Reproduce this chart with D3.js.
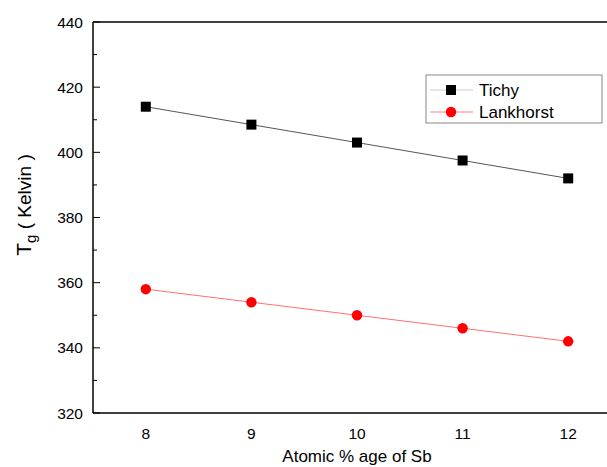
<!DOCTYPE html>
<html><head><meta charset="utf-8">
<script src="https://cdn.jsdelivr.net/npm/d3@7"></script>
<style>body{margin:0;background:#fff}svg{display:block}text{font-family:"Liberation Sans",Arial,sans-serif}</style>
</head><body>
<svg id="c" width="607" height="467"></svg>
<script>
const xValues = [8, 9, 10, 11, 12];
const tichy = [414, 408.5, 403, 397.5, 392];
const lankhorst = [358, 354, 350, 346, 342];
const yTicks = [320, 340, 360, 380, 400, 420, 440];
const yMinor = [330, 350, 370, 390, 410, 430];
const xTicks = [8, 9, 10, 11, 12];
const seriesNames = ["Tichy", "Lankhorst"];

const svg = d3.select("#c");
const x = d3.scaleLinear().domain([7.5, 12.5]).range([93, 621]);
const y = d3.scaleLinear().domain([320, 440]).range([413, 22]);

// axes frame
svg.append("line").attr("x1",93).attr("x2",621).attr("y1",y(440)).attr("y2",y(440)).attr("stroke","#000").attr("stroke-width",1.5);
svg.append("line").attr("x1",93).attr("x2",621).attr("y1",y(320)).attr("y2",y(320)).attr("stroke","#000").attr("stroke-width",1.5);
svg.append("line").attr("x1",x(7.5)).attr("x2",x(7.5)).attr("y1",y(320)).attr("y2",y(440)).attr("stroke","#000").attr("stroke-width",1.5);

// y ticks
svg.selectAll(".ytk").data(yTicks).join("line").attr("x1",93).attr("x2",100)
  .attr("y1",d=>y(d)).attr("y2",d=>y(d)).attr("stroke","#000");
svg.selectAll(".ymn").data(yMinor).join("line").attr("x1",93).attr("x2",97)
  .attr("y1",d=>y(d)).attr("y2",d=>y(d)).attr("stroke","#000");
svg.selectAll(".ylb").data(yTicks).join("text").attr("x",83).attr("y",d=>y(d)+5.5)
  .attr("text-anchor","end").attr("font-size",15.5).text(d=>d);
svg.selectAll(".xlb").data(xTicks).join("text").attr("x",d=>x(d)).attr("y",439)
  .attr("text-anchor","middle").attr("font-size",15.5).text(d=>d);

// axis titles
svg.append("text").attr("x",357).attr("y",462).attr("text-anchor","middle").attr("font-size",17)
  .text("Atomic % age of Sb");
const yl = svg.append("text").attr("transform","translate(31,205) rotate(-90)").attr("text-anchor","middle").attr("font-size",21);
yl.append("tspan").text("T");
yl.append("tspan").attr("font-size",15).attr("dy",5).text("g");
yl.append("tspan").attr("dy",-5).attr("font-size",19).text(" ( Kelvin )");

// series
const line = d3.line().x((d,i)=>x(xValues[i])).y(d=>y(d));
svg.append("path").datum(tichy).attr("d",line).attr("fill","none").attr("stroke","#555").attr("stroke-width",1);
svg.append("path").datum(lankhorst).attr("d",line).attr("fill","none").attr("stroke","#ff7070").attr("stroke-width",1);
svg.selectAll(".sq").data(tichy).join("rect").attr("x",(d,i)=>x(xValues[i])-5).attr("y",d=>y(d)-5)
  .attr("width",10).attr("height",10).attr("fill","#000");
svg.selectAll(".ci").data(lankhorst).join("circle").attr("cx",(d,i)=>x(xValues[i])).attr("cy",d=>y(d))
  .attr("r",5.2).attr("fill","#ff0000");

// legend
svg.append("rect").attr("x",426).attr("y",75).attr("width",176).attr("height",48).attr("fill","#fff").attr("stroke","#888").attr("stroke-width",1);
svg.append("line").attr("x1",430).attr("x2",473).attr("y1",90).attr("y2",90).attr("stroke","#ccc");
svg.append("rect").attr("x",446).attr("y",85).attr("width",10).attr("height",10).attr("fill","#000");
svg.append("line").attr("x1",430).attr("x2",473).attr("y1",112).attr("y2",112).attr("stroke","#ff8080");
svg.append("circle").attr("cx",451).attr("cy",112).attr("r",5.2).attr("fill","#ff0000");
svg.append("text").attr("x",479).attr("y",96).attr("font-size",17).text(seriesNames[0]);
svg.append("text").attr("x",479).attr("y",118).attr("font-size",17).text(seriesNames[1]);
</script>
</body></html>
